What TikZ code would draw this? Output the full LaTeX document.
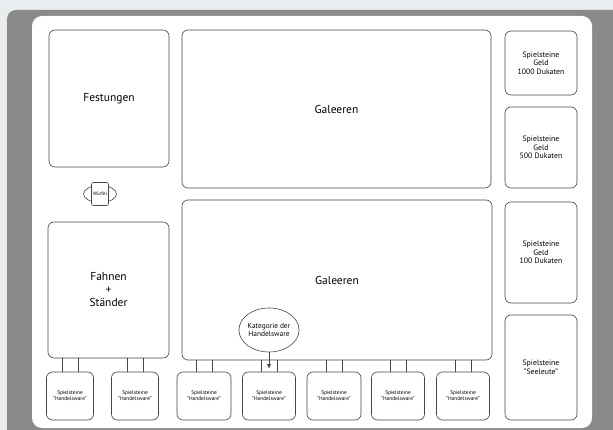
\documentclass[tikz,border=0pt]{standalone}
\usepackage{fontspec}
\setmainfont{PT Sans}
\usetikzlibrary{shapes.geometric,arrows.meta}

\definecolor{papier}{RGB}{234,237,240}
\definecolor{rahmen}{RGB}{138,138,136}
\definecolor{linie}{RGB}{70,70,70}

\tikzset{
  feld/.style={draw=linie, line width=0.6pt, rounded corners=6pt, fill=white,
    align=center, inner sep=0pt},
  gross/.style={font=\fontsize{11.5}{13}\selectfont},
  klein/.style={font=\fontsize{7.8}{8.6}\selectfont},
  winzig/.style={font=\fontsize{5.4}{6.2}\selectfont},
  steg/.style={draw=linie, line width=0.6pt}
}

\begin{document}
\begin{tikzpicture}[x=1pt,y=-1pt]
\clip (0,0) rectangle (613,430);
\useasboundingbox (0,0) rectangle (613,430);

% Board frame
\fill[papier] (0,0) rectangle (613,430);
\fill[rahmen, rounded corners=9pt] (7,10) rectangle (640,460);
\fill[white, rounded corners=10pt] (32,16) rectangle (592,428);

% Main fields
\node[feld,gross,minimum width=120pt,minimum height=137pt] (festung) at (109,98.5) {Festungen};
\node[feld,gross,minimum width=309pt,minimum height=158pt] (galeereA) at (336.5,109) {Galeeren};
\node[feld,gross,minimum width=310pt,minimum height=160pt] (galeereB) at (337,280) {Galeeren};
\node[feld,gross,minimum width=121pt,minimum height=136pt] (fahnen) at (108.5,290) {Fahnen\\+\\Ständer};

% Money and sailors
\node[feld,klein,minimum width=72pt,minimum height=64pt] (geld1000) at (541,63) {Spielsteine\\Geld\\1000 Dukaten};
\node[feld,klein,minimum width=72pt,minimum height=81pt] (geld500) at (541,147.5) {Spielsteine\\Geld\\500 Dukaten};
\node[feld,klein,minimum width=72pt,minimum height=101pt] (geld100) at (541,252.5) {Spielsteine\\Geld\\100 Dukaten};
\node[feld,klein,minimum width=72pt,minimum height=105pt] (seeleute) at (541,367.5) {Spielsteine\\"Seeleute"};

% Dice
\node[draw=linie, line width=0.6pt, ellipse, minimum width=33pt, minimum height=17pt, inner sep=0pt] (wuerfelform) at (100,194) {};
\node[draw=linie, line width=0.6pt, fill=white, rounded corners=2pt, minimum width=17pt, minimum height=23pt, inner sep=0pt,
  font=\fontsize{5}{5}\selectfont] (wuerfel) at (100,194) {Würfel};

% Trade goods with their two stays
\foreach \n/\x/\w/\ziel in {1/70/47/fahnen, 2/135/47/fahnen, 3/204/54/galeereB, 4/269/53/galeereB,
                            5/334/54/galeereB, 6/398/53/galeereB, 7/463/53/galeereB} {
  \node[feld,winzig,minimum width=\w pt,minimum height=48pt] (hw\n) at (\x,396) {Spielsteine\\"Handelsware"};
  \draw[steg] ([xshift=-8pt]hw\n.north) -- ([xshift=-8pt]hw\n.north |- \ziel.south);
  \draw[steg] ([xshift=8pt]hw\n.north) -- ([xshift=8pt]hw\n.north |- \ziel.south);
}

% Category marker
\node[feld,ellipse,font=\fontsize{7.4}{8.4}\selectfont,minimum width=57pt,minimum height=44pt] (kategorie) at (269,330) {Kategorie der\\Handelsware};
\draw[steg,-{Latex[length=4.5pt,width=4pt]}] (kategorie.south) -- ([yshift=3pt]hw4.north);
\end{tikzpicture}
\end{document}
